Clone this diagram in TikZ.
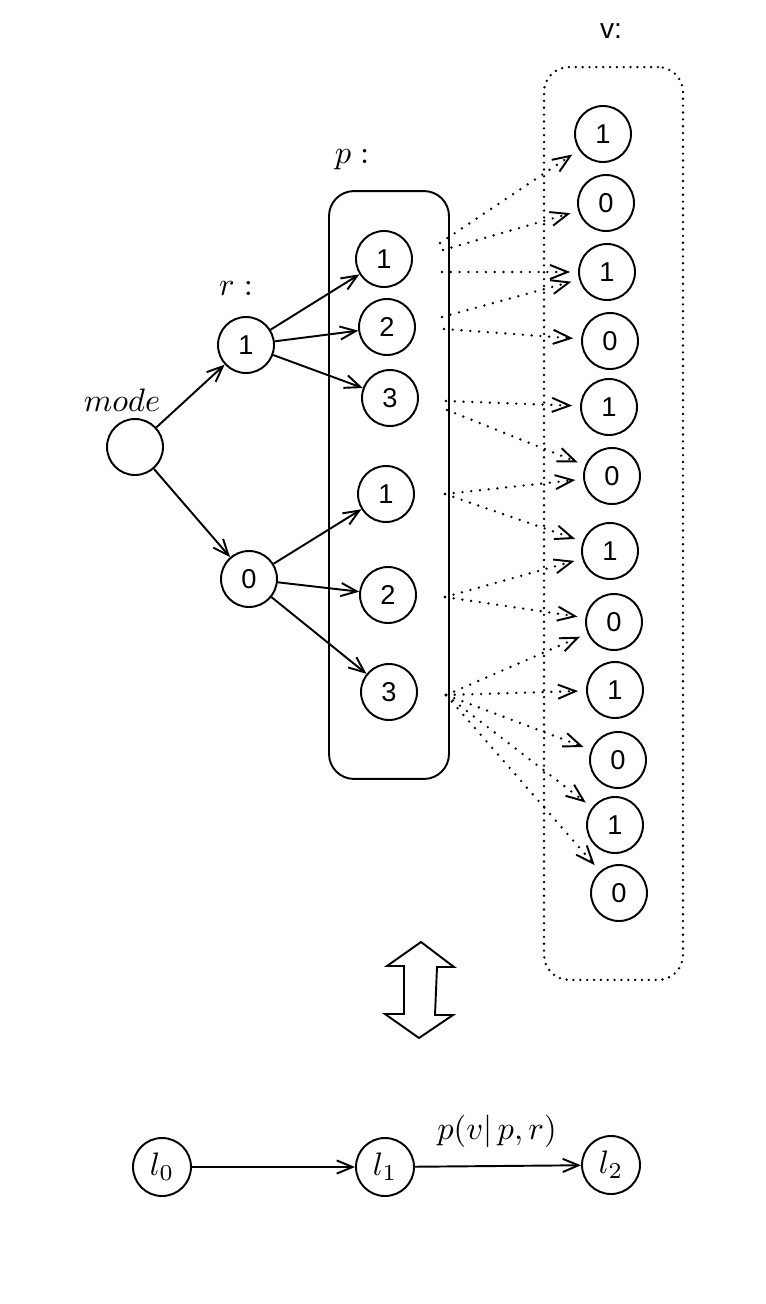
\documentclass[tikz,border=0pt]{standalone}
\usepackage{fontspec}
\newfontfamily\sansf{Liberation Sans}
\usetikzlibrary{arrows.meta}
\newcommand{\mth}[1]{\scalebox{1.85}{$#1$}}
\begin{document}
\begin{tikzpicture}[x=0.02cm,y=-0.02cm,
  circ/.style={circle,draw,line width=1.1pt,minimum size=1.12cm,inner sep=0pt,font=\sansf\fontsize{15.5}{17}\selectfont},
  lcirc/.style={circle,draw,line width=1.1pt,minimum size=1.16cm,inner sep=0pt},
  lab/.style={inner sep=0pt},
  arr/.style={line width=1.1pt,-{Straight Barb[length=9pt,width=7.5pt,line width=1.1pt]}},
  dotarr/.style={line width=1.5pt,dash pattern=on 0pt off 5pt,line cap=round,
     -{Straight Barb[length=10pt,width=8pt,line width=1.1pt]},shorten >=4.5pt},
  solidbox/.style={draw,line width=1.1pt,rounded corners=0.5cm,inner sep=0pt},
  dotbox/.style={draw,line width=1.5pt,dash pattern=on 0pt off 3.9pt,line cap=round,rounded corners=0.5cm,inner sep=0pt}
]
\useasboundingbox (0,0) rectangle (766,1304);

% boxes
\node[solidbox,minimum width=2.40cm,minimum height=11.76cm] (pbox) at (389,485) {};
\node[dotbox,minimum width=2.78cm,minimum height=18.26cm] (vbox) at (613.5,523.5) {};

% labels
\node[lab] (modelab) at (122,400) {\mth{mode}};
\node[lab] (rlab) at (236,289) {\mth{r:}};
\node[lab] (plab) at (352,160) {\mth{p:}};
\node[inner sep=0pt,font=\sansf\fontsize{16}{18}\selectfont] (vlab) at (611,31) {v:};

% tree nodes
\node[circ] (mode) at (135,447) {};
\node[circ] (r1) at (246,345) {1};
\node[circ] (r0) at (249,579) {0};
\node[circ] (p1) at (384,259) {1};
\node[circ] (p2) at (387,327) {2};
\node[circ] (p3) at (390,398) {3};
\node[circ] (p4) at (386,494) {1};
\node[circ] (p5) at (388,595) {2};
\node[circ] (p6) at (389,692) {3};

% v nodes
\node[circ] (va) at (603,134) {1};
\node[circ] (vb) at (606,203) {0};
\node[circ] (vc) at (607,272) {1};
\node[circ] (vd) at (610,341) {0};
\node[circ] (ve) at (609,407) {1};
\node[circ] (vf) at (612,476) {0};
\node[circ] (vg) at (610,551) {1};
\node[circ] (vh) at (614,622) {0};
\node[circ] (vi) at (615,690) {1};
\node[circ] (vj) at (618,760) {0};
\node[circ] (vk) at (615,825) {1};
\node[circ] (vl) at (619,893) {0};

% solid arrows
\draw[arr] (mode) -- (r1);
\draw[arr] (mode) -- (r0);
\draw[arr] (r1) -- (p1);
\draw[arr] (r1) -- (p2);
\draw[arr] (r1) -- (p3);
\draw[arr] (r0) -- (p4);
\draw[arr] (r0) -- (p5);
\draw[arr] (r0) -- (p6);

% dotted connector start points
\coordinate (s1a) at (440,243);
\coordinate (s1b) at (443,250);
\coordinate (s1c) at (442,272);
\coordinate (s2a) at (442,317);
\coordinate (s2b) at (444,329);
\coordinate (s3a) at (446,401);
\coordinate (s3b) at (447,410);
\coordinate (s4) at (445,494);
\coordinate (s5) at (445,597);
\coordinate (s6) at (446,695);

\draw[dotarr] (s1a) -- (va);
\draw[dotarr] (s1b) -- (vb);
\draw[dotarr] (s1c) -- (vc);
\draw[dotarr] (s2a) -- (vc);
\draw[dotarr] (s2b) -- (vd);
\draw[dotarr] (s3a) -- (ve);
\draw[dotarr] (s3b) -- (vf);
\draw[dotarr] (s4) -- (vf);
\draw[dotarr] (s4) -- (vg);
\draw[dotarr] (s5) -- (vg);
\draw[dotarr] (s5) -- (vh);
\draw[dotarr] (s6) -- (vh);
\draw[dotarr] (s6) -- (vi);
\draw[dotarr] (s6) -- (vj);
\draw[dotarr] (s6) -- (vk);
\draw[dotarr] (s6) -- (vl);

% double arrow
\draw[line width=1.1pt,line join=miter] (421,942) -- (454,967) -- (437,967) -- (435,1015) -- (453,1015)
  -- (419,1038) -- (385,1014) -- (404,1014) -- (404,966) -- (387,966) -- cycle;

% bottom chain
\node[lcirc] (l0) at (162,1167) {\mth{l_0}};
\node[lcirc] (l1) at (385,1167) {\mth{l_1}};
\node[lcirc] (l2) at (611,1165) {\mth{l_2}};
\draw[arr] (l0) -- (l1);
\draw[arr] (l1) -- (l2);
\node[lab] (plab2) at (497,1131) {\mth{p(v|\,p,r)}};
\end{tikzpicture}
\end{document}
